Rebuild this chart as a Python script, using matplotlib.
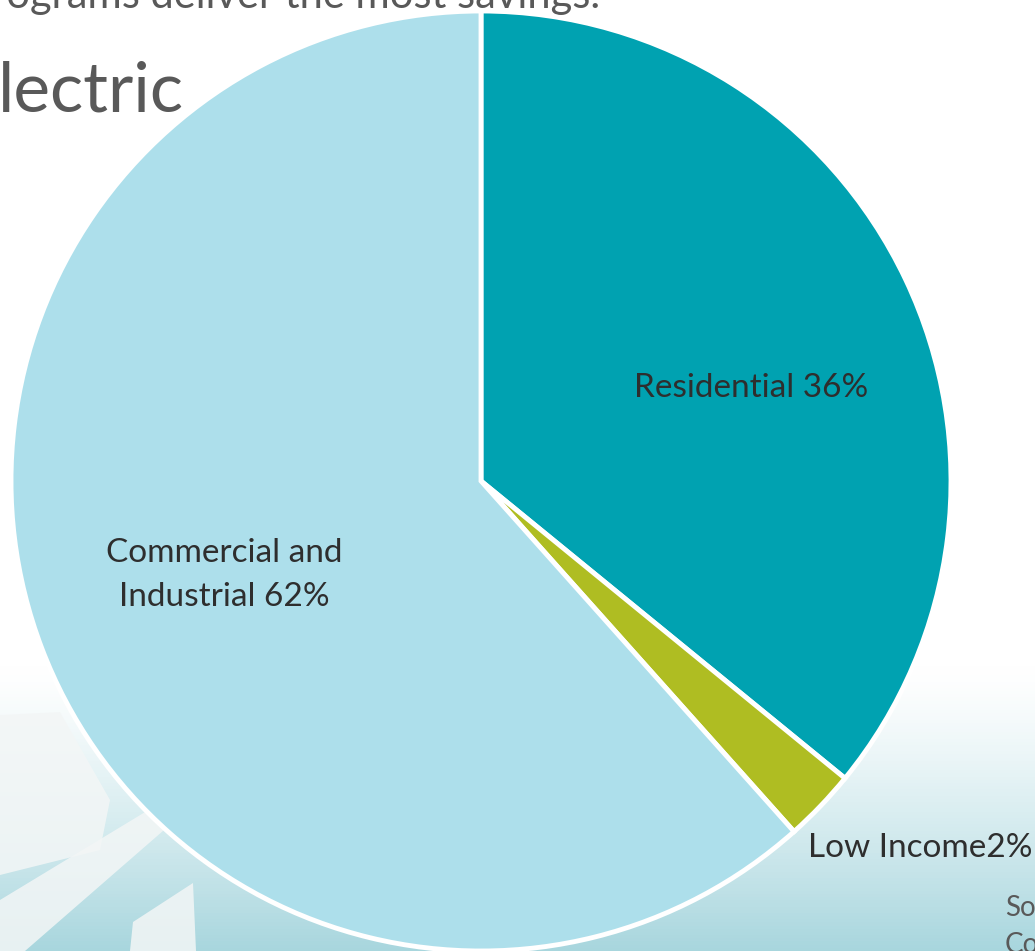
import numpy as np
import matplotlib
matplotlib.use('Agg')
import matplotlib.pyplot as plt
from matplotlib.patches import Polygon

W, H = 1035, 951

labels = ['Residential 36%', 'Low Income2%', 'Commercial and\nIndustrial 62%']
shares = [35.9, 2.5, 61.6]
colors = ['#00A2B1', '#AFBD22', '#ADDFEB']

plt.rcParams['font.family'] = ['Lato', 'DejaVu Sans']

fig = plt.figure(figsize=(W / 100, H / 100), dpi=100)
ax = fig.add_axes([0, 0, 1, 1])

# 背景渐变：上白下浅青
grad = np.linspace(0, 1, 300)
t = np.clip((grad - 0.7) / 0.3, 0, 1) ** 1.3
top = np.array([1.0, 1.0, 1.0])
bot = np.array([0.66, 0.84, 0.87])
img = (top[None, :] * (1 - t[:, None]) + bot[None, :] * t[:, None])[:, None, :]
ax.imshow(img, extent=[0, W, 0, H], origin='upper', aspect='auto', zorder=0)

# 左下角淡色装饰（像素坐标，自上而下）
deco = '#F3F6F6'
shapes = [[(0, 715), (60, 712), (110, 800), (100, 850), (0, 875)],
          [(0, 900), (165, 800), (210, 790), (25, 951), (0, 951)],
          [(133, 922), (193, 883), (196, 951), (130, 951)]]
for pts in shapes:
    ax.add_patch(Polygon([(x, H - y) for x, y in pts], closed=True, color=deco,
                         alpha=0.85, zorder=1, lw=0))

# 饼图
wedges, _ = ax.pie(shares, colors=colors, startangle=90, counterclock=False,
                   center=(481, H - 481), radius=470, frame=True,
                   wedgeprops=dict(edgecolor='white', linewidth=3.5))
for w in wedges:
    w.set_zorder(3)
ax.set_xlim(0, W)
ax.set_ylim(0, H)
ax.axis('off')

lab_col = '#2E2E2E'
ax.text(751, H - 388, labels[0], ha='center', va='center', fontsize=24, color=lab_col, zorder=5)
ax.text(224, H - 575, labels[2], ha='center', va='center', fontsize=24, color=lab_col,
        linespacing=1.6, zorder=5)
ax.text(808, H - 848, labels[1], ha='left', va='center', fontsize=24, color=lab_col, zorder=5)

# 幻灯片上残留的文字
grey = '#595959'
ax.text(600, H - 8, 'programs deliver the most savings.', ha='right', va='baseline',
        fontsize=30, color=grey, zorder=2)
ax.text(-2, H - 112, 'lectric', ha='left', va='baseline', fontsize=50, color=grey, zorder=2)
ax.text(1005, H - 908, 'So', ha='left', va='center', fontsize=20, color=grey, zorder=2)
ax.text(1005, H - 945, 'Co', ha='left', va='center', fontsize=20, color=grey, zorder=2)

fig.savefig('out.png', dpi=100)
